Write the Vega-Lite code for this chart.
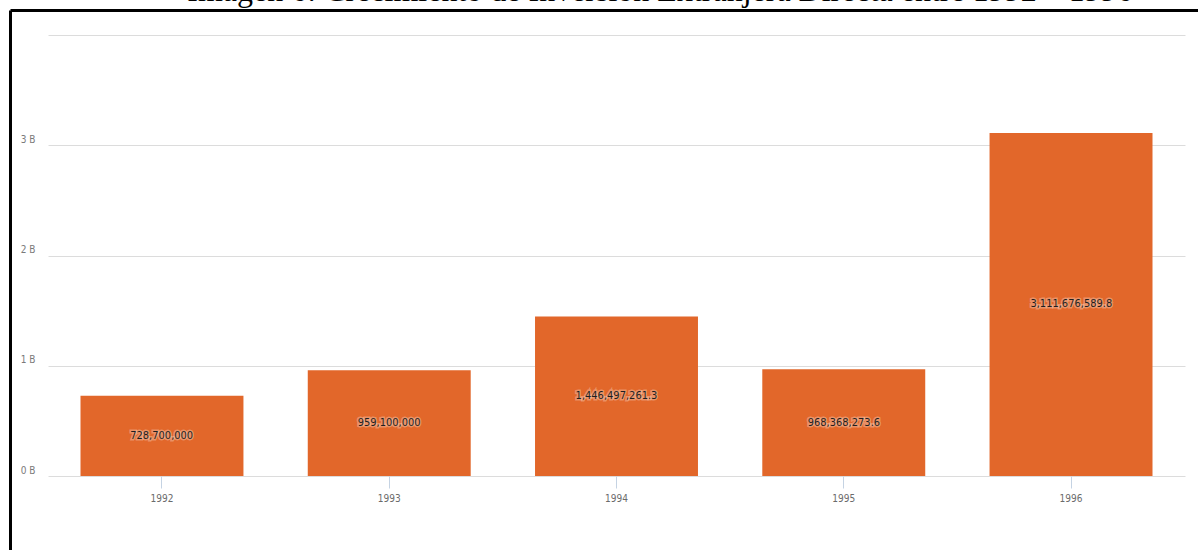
{
  "$schema": "https://vega.github.io/schema/vega-lite/v6.json",
  "width": 1188,
  "height": 540,
  "autosize": {"type": "none"},
  "padding": {"left": 10, "top": 10, "right": 0, "bottom": 0},
  "background": "white",
  "title": {
    "text": "Imagen 6: Crecimiento de Inversión Extranjera Directa entre 1992 – 1996",
    "font": "Liberation Serif",
    "fontSize": 32,
    "fontWeight": "normal",
    "color": "#000000",
    "anchor": "middle",
    "frame": "group",
    "baseline": "alphabetic",
    "offset": 0,
    "dy": 23,
    "dx": 56
  },
  "data": {
    "values": [
      {"year": "1992", "value": 728700000},
      {"year": "1993", "value": 959100000},
      {"year": "1994", "value": 1446497261.3},
      {"year": "1995", "value": 968368273.6},
      {"year": "1996", "value": 3111676589.8}
    ]
  },
  "layer": [
    {
      "mark": {"type": "bar", "color": "#e2672a"},
      "encoding": {
        "x": {
          "field": "year",
          "type": "nominal",
          "sort": null,
          "scale": {"range": [38, 1175], "paddingInner": 0.283, "paddingOuter": 0.143},
          "axis": {
            "title": null,
            "orient": "bottom",
            "offset": -74,
            "domain": false,
            "grid": false,
            "ticks": true,
            "tickColor": "#c5d3e3",
            "tickSize": 12,
            "tickWidth": 1,
            "labelAngle": 0,
            "labelPadding": 5,
            "labelFont": "'DejaVu Sans Condensed', 'Liberation Sans Narrow', Roboto, sans-serif",
            "labelFontSize": 10,
            "labelColor": "#6b6b6b"
          }
        },
        "y": {
          "field": "value",
          "type": "quantitative",
          "scale": {"domain": [-671201814, 4226757370], "range": [540, 0], "nice": false, "zero": false},
          "axis": {
            "title": null,
            "orient": "left",
            "values": [0, 1000000000, 2000000000, 3000000000, 4000000000],
            "labelExpr": "datum.value >= 4000000000 ? '' : format(datum.value / 1000000000, 'd') + ' B'",
            "domain": true,
            "domainColor": "#000000",
            "domainWidth": 3,
            "ticks": false,
            "grid": true,
            "gridColor": "#dcdcdc",
            "gridWidth": 1,
            "labelAlign": "right",
            "labelBaseline": "alphabetic",
            "labelOffset": -3,
            "labelPadding": -25,
            "labelFont": "'DejaVu Sans Condensed', 'Liberation Sans Narrow', Roboto, sans-serif",
            "labelFontSize": 10,
            "labelColor": "#7a7a7a"
          }
        },
        "y2": {"datum": 0}
      }
    },
    {
      "mark": {
        "type": "text",
        "font": "'DejaVu Sans Condensed', 'Liberation Sans Narrow', Roboto, sans-serif",
        "fontSize": 11,
        "baseline": "middle",
        "align": "center",
        "stroke": "#ffffff",
        "strokeWidth": 3,
        "strokeOpacity": 0.3,
        "fill": "#ffffff",
        "fillOpacity": 0.2
      },
      "encoding": {
        "x": {
          "field": "year",
          "type": "nominal",
          "sort": null,
          "scale": {"range": [38, 1175], "paddingInner": 0.283, "paddingOuter": 0.143},
          "axis": null
        },
        "y": {
          "field": "value",
          "type": "quantitative",
          "scale": {"domain": [-1342403628, 8453514740], "range": [540, 0], "nice": false, "zero": false},
          "axis": null
        },
        "text": {"field": "value", "type": "quantitative", "format": ",.1~f"}
      }
    },
    {
      "mark": {
        "type": "text",
        "font": "'DejaVu Sans Condensed', 'Liberation Sans Narrow', Roboto, sans-serif",
        "fontSize": 11,
        "baseline": "middle",
        "align": "center",
        "color": "#1e1e1e"
      },
      "encoding": {
        "x": {
          "field": "year",
          "type": "nominal",
          "sort": null,
          "scale": {"range": [38, 1175], "paddingInner": 0.283, "paddingOuter": 0.143},
          "axis": null
        },
        "y": {
          "field": "value",
          "type": "quantitative",
          "scale": {"domain": [-1342403628, 8453514740], "range": [540, 0], "nice": false, "zero": false},
          "axis": null
        },
        "text": {"field": "value", "type": "quantitative", "format": ",.1~f"}
      }
    },
    {
      "mark": {"type": "point", "opacity": 0},
      "encoding": {
        "x": {
          "field": "value",
          "type": "quantitative",
          "scale": {"domain": [0, 4000000000], "nice": false},
          "axis": {
            "title": null,
            "orient": "top",
            "domain": true,
            "domainColor": "#000000",
            "domainWidth": 3,
            "ticks": false,
            "labels": false,
            "grid": false
          }
        }
      }
    }
  ],
  "resolve": {"scale": {"x": "independent", "y": "independent"}},
  "config": {
    "view": {"stroke": null},
    "axis": {"labelFlush": false}
  }
}
